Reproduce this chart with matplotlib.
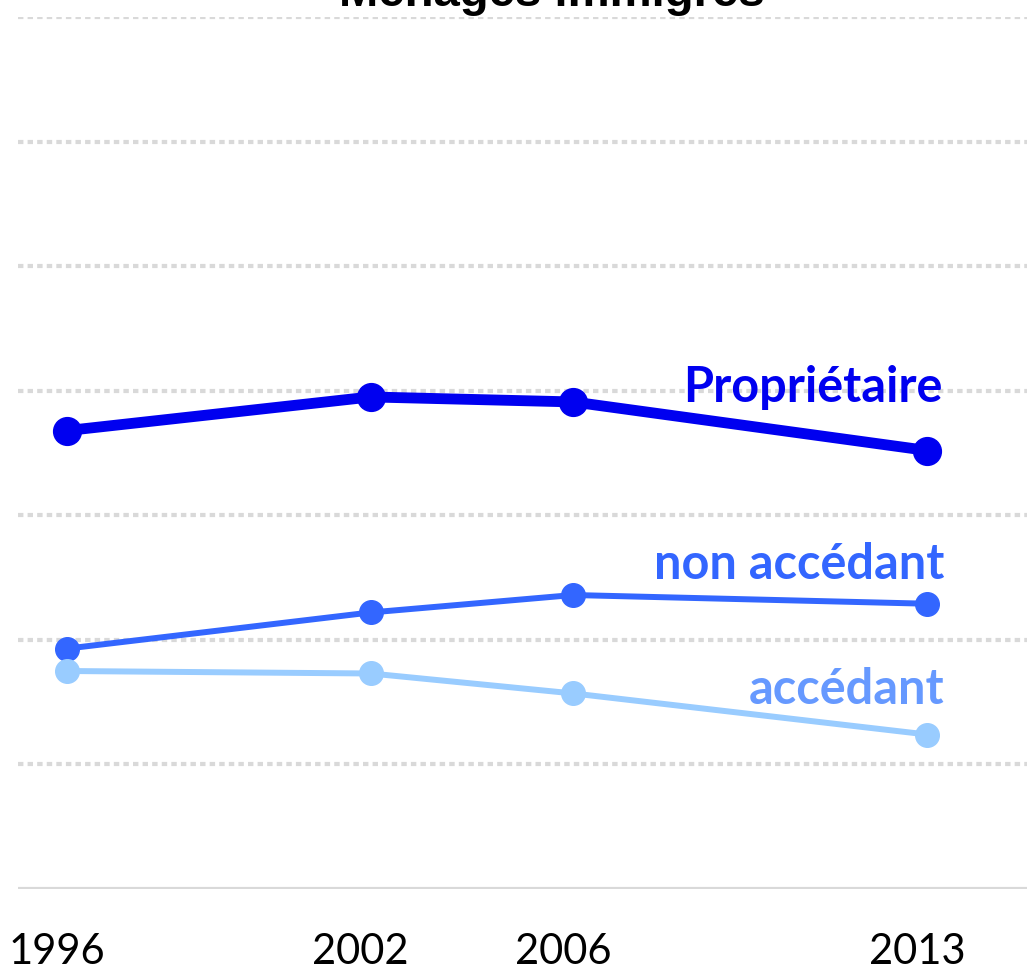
import matplotlib
matplotlib.use("Agg")
import matplotlib.pyplot as plt
from matplotlib.transforms import ScaledTranslation

years = [1996, 2002, 2006, 2013]
proprietaire = [36.8, 39.5, 39.1, 35.2]
non_accedant = [19.3, 22.2, 23.6, 22.9]
accedant = [17.5, 17.3, 15.7, 12.4]
grid_values = [10, 20, 30, 40, 50, 60, 70]
title = "Ménages immigrés"

W, H = 1027, 970
fig = plt.figure(figsize=(W / 100, H / 100), dpi=100)
ax = fig.add_axes([18 / W, 80 / H, 1 - 18 / W, 872 / H])
ax.set_xlim(1995.03, 2014.97)
ax.set_ylim(0, 70)

for g in grid_values:
    ax.axhline(g, color="#D9D9D9", lw=3.0, ls=(0, (1.3, 1.0)), zorder=1)
ax.axhline(0, color="#D9D9D9", lw=3, zorder=1)

series = [
    (proprietaire, "#0000F0", 7.8, 20, "Propriétaire", "#0000F0", (15, 50)),
    (non_accedant, "#3366FF", 4.3, 17, "non accédant", "#3366FF", (17, 26)),
    (accedant, "#99CCFF", 4.3, 17, "accédant", "#6699FF", (17, 32)),
]
for vals, col, lw, ms, lab, lcol, off in series:
    ax.plot(years, vals, color=col, lw=lw, marker="o", ms=ms, clip_on=False, zorder=3,
            solid_capstyle="round")
    ax.annotate(lab, xy=(years[-1], vals[-1]), xytext=off, textcoords="offset pixels",
                ha="right", va="baseline", fontsize=35, fontweight="bold",
                color=lcol, family=["Lato", "DejaVu Sans"], zorder=4)

ax.set_xticks(years)
ax.set_xticklabels([str(y) for y in years], fontsize=30, family=["Lato", "DejaVu Sans"])
ax.tick_params(axis="x", length=0, pad=31)
shift = ScaledTranslation(-10 / 100, 0, fig.dpi_scale_trans)
for t in ax.get_xticklabels():
    t.set_transform(t.get_transform() + shift)
ax.set_yticks([])
for s in ax.spines.values():
    s.set_visible(False)

fig.text(552 / W, 1 - 6 / H, title, ha="center", va="baseline", fontsize=34,
         fontweight="bold", family=["Liberation Sans", "DejaVu Sans"])

fig.savefig("out.png", dpi=100)
